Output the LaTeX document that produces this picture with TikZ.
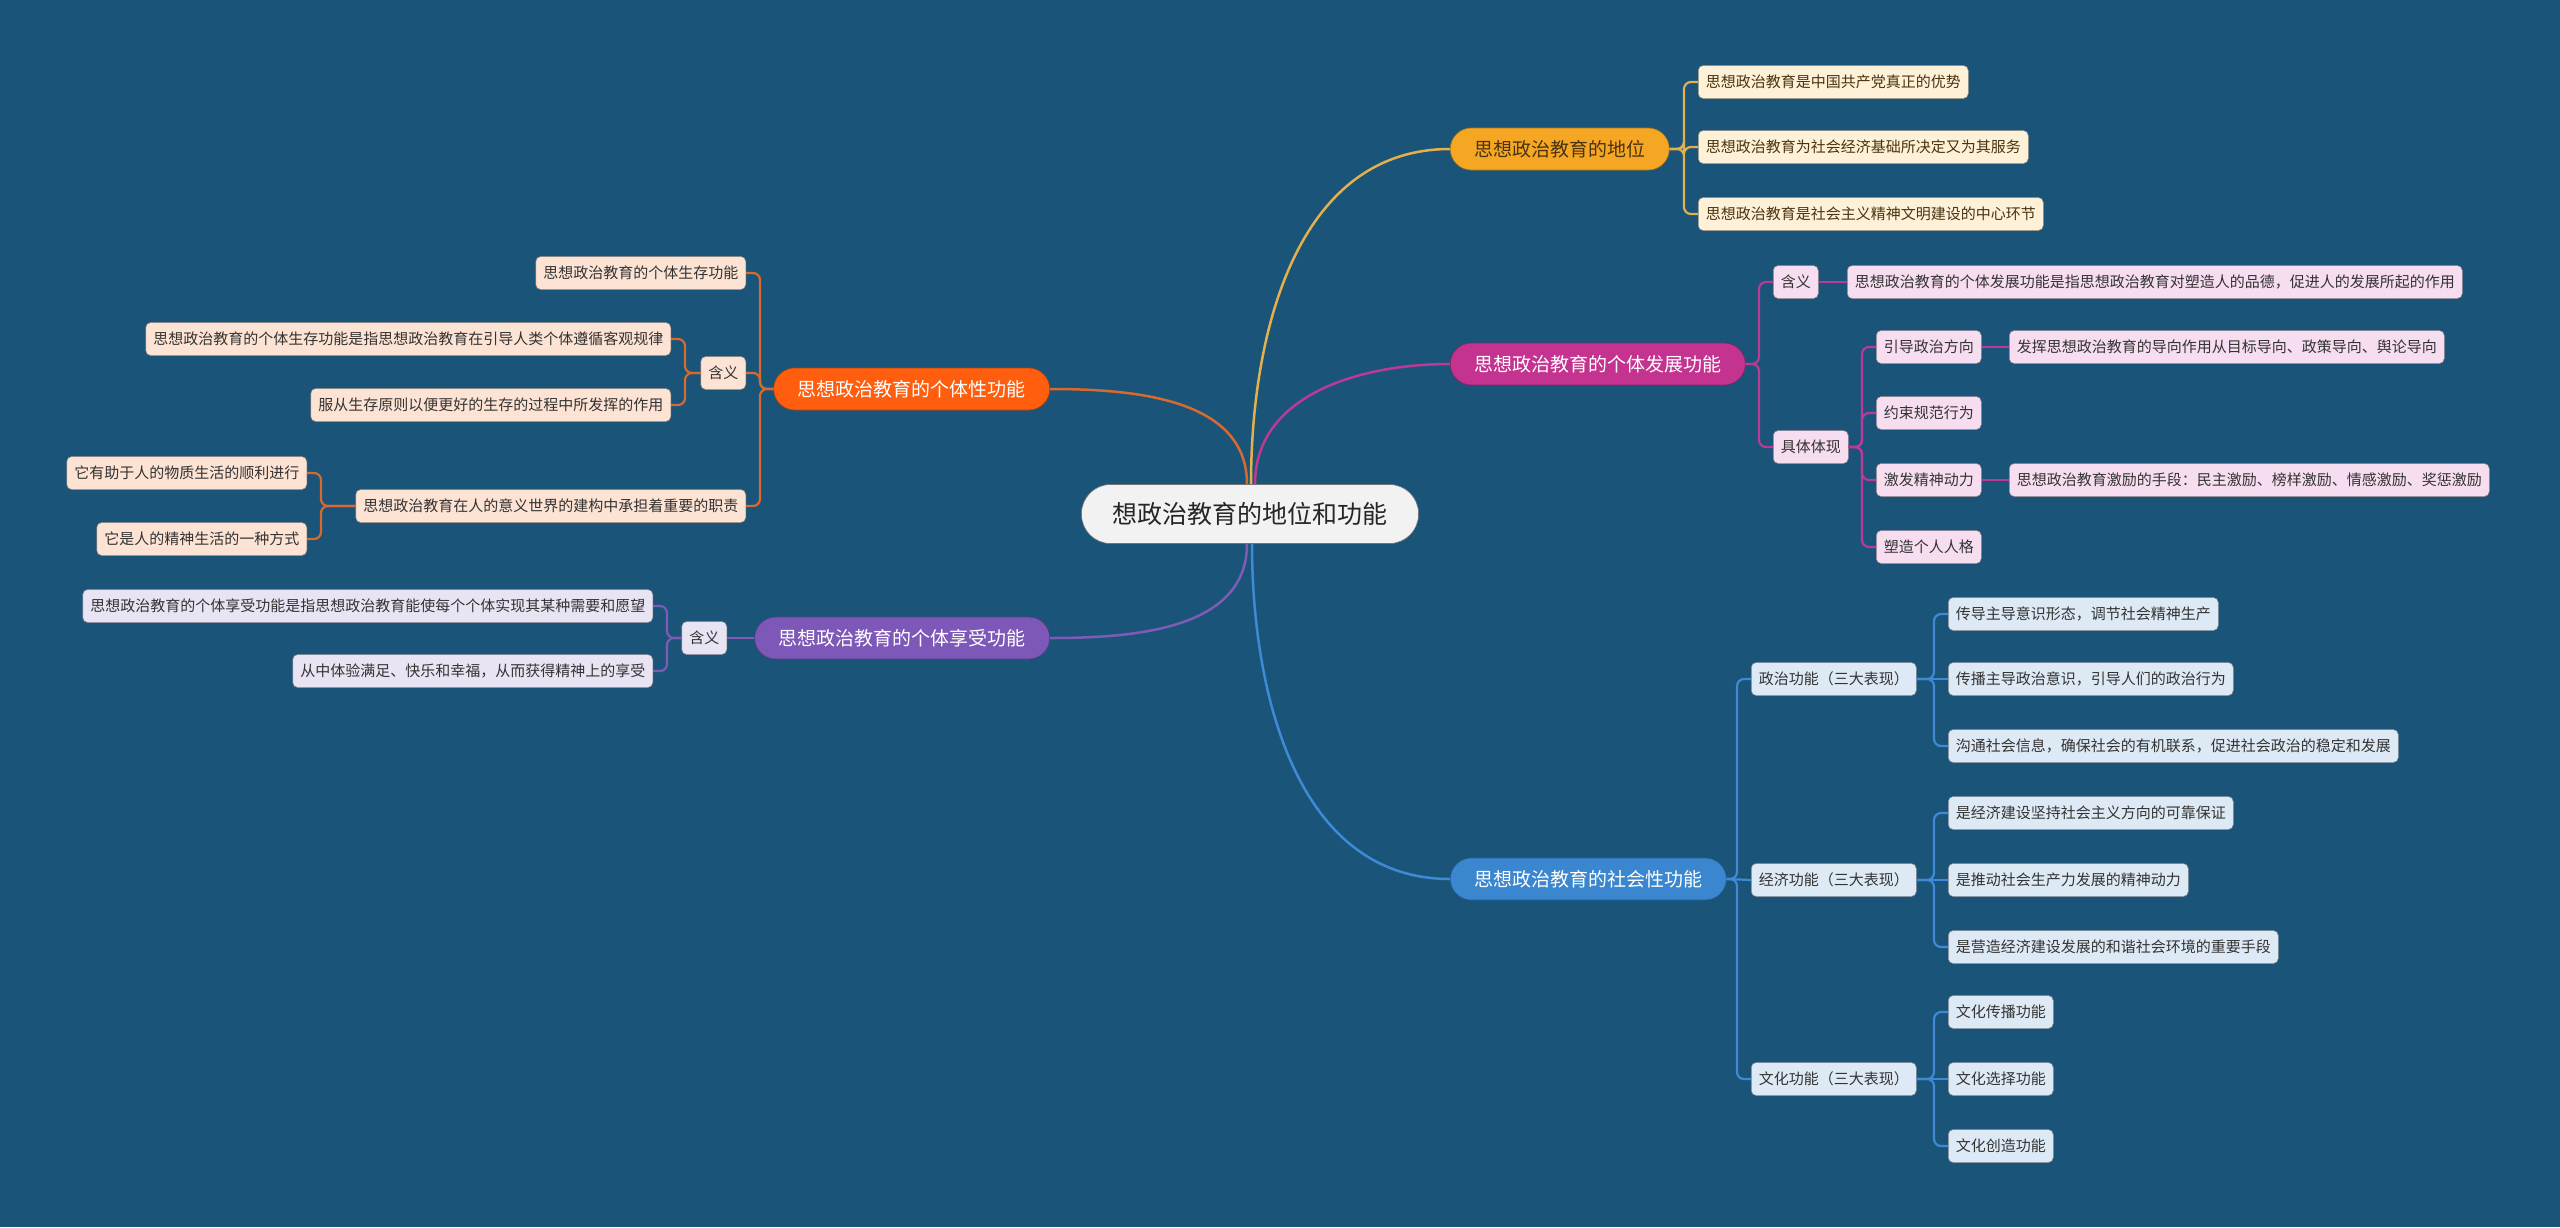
\documentclass[tikz,border=0pt]{standalone}
\usepackage{fontspec}
\newfontfamily\cjk{Noto Sans CJK SC}
\usetikzlibrary{calc}

\definecolor{bg}{HTML}{1A5479}
\definecolor{rootfill}{HTML}{F2F2F2}
\definecolor{posc}{HTML}{F5A623}
\definecolor{posline}{HTML}{E2B04C}
\definecolor{posleaf}{HTML}{FFF1D8}
\definecolor{postext}{HTML}{4A3310}
\definecolor{devc}{HTML}{C4338F}
\definecolor{devline}{HTML}{BC3A93}
\definecolor{devleaf}{HTML}{F7DDF0}
\definecolor{indc}{HTML}{FF5E0E}
\definecolor{indline}{HTML}{D8692F}
\definecolor{indleaf}{HTML}{FDE3D4}
\definecolor{enjc}{HTML}{7E58B8}
\definecolor{enjline}{HTML}{7E5CB6}
\definecolor{enjleaf}{HTML}{E9E4F3}
\definecolor{socc}{HTML}{3A86CF}
\definecolor{socline}{HTML}{3F8AD6}
\definecolor{socleaf}{HTML}{DDEAF6}

\tikzset{
  every node/.style={font=\cjk},
  rootnode/.style={fill=rootfill, draw=black!55, line width=0.6pt, rounded corners=29pt,
    minimum height=59pt, inner xsep=31pt, font=\cjk\fontsize{25}{30}\selectfont, text=black!85},
  branch/.style={fill=#1, draw=#1!70!black, line width=0.6pt, rounded corners=21pt,
    minimum height=42pt, inner xsep=24pt, font=\cjk\fontsize{19}{23}\selectfont, text=white},
  leaf/.style={fill=#1, draw=#1!60!black, line width=0.5pt, rounded corners=5pt,
    minimum height=33pt, inner xsep=7.5pt, font=\cjk\fontsize{15}{18}\selectfont, text=black!80},
  trunk/.style={draw=#1, line width=2.5pt},
  twig/.style={draw=#1, line width=2.2pt, rounded corners=7pt},
}

% twigs: parent to child, right side, left side, and straight
\newcommand\twigR[3]{\draw[twig=#1] (#2.east) -| ([xshift=-14pt]#3.west) -- (#3.west);}
\newcommand\twigL[3]{\draw[twig=#1] (#2.west) -| ([xshift=14pt]#3.east) -- (#3.east);}
\newcommand\twigS[3]{\draw[twig=#1] (#2) -- (#3);}

\begin{document}
\begin{tikzpicture}[x=1pt,y=-1pt]
  \fill[bg] (0,0) rectangle (2560,1227);
  \useasboundingbox (0,0) rectangle (2560,1227);

  % root and main branches
  \node[rootnode] (root) at (1250,514) {想政治教育的地位和功能};
  \node[branch=posc, anchor=west, text=postext] (pos) at (1450,149) {思想政治教育的地位};
  \node[branch=devc, anchor=west] (dev) at (1450,364) {思想政治教育的个体发展功能};
  \node[branch=socc, anchor=west] (soc) at (1450,879) {思想政治教育的社会性功能};
  \node[branch=indc, anchor=east] (ind) at (1050,389) {思想政治教育的个体性功能};
  \node[branch=enjc, anchor=east] (enj) at (1050,638) {思想政治教育的个体享受功能};

  \draw[trunk=indline] ([xshift=-3pt]root.north) to[out=90,in=0] (ind.east);
  \draw[trunk=posline] ([xshift=1pt]root.north) to[out=90,in=180] (pos.west);
  \draw[trunk=devline] ([xshift=5pt]root.north) to[out=90,in=180] (dev.west);
  \draw[trunk=enjline] ([xshift=-3pt]root.south) to[out=-90,in=0] (enj.east);
  \draw[trunk=socline] ([xshift=2pt]root.south) to[out=-90,in=180] (soc.west);

  % 地位
  \node[leaf=posleaf, anchor=west, text=postext] (pos1) at (1698,82) {思想政治教育是中国共产党真正的优势};
  \node[leaf=posleaf, anchor=west, text=postext] (pos2) at (1698,147) {思想政治教育为社会经济基础所决定又为其服务};
  \node[leaf=posleaf, anchor=west, text=postext] (pos3) at (1698,214) {思想政治教育是社会主义精神文明建设的中心环节};
  \foreach \c in {pos1,pos2,pos3} {\twigR{posline}{pos}{\c}}

  % 个体发展功能
  \node[leaf=devleaf, anchor=west] (devm) at (1773,282) {含义};
  \node[leaf=devleaf, anchor=west] (devm1) at (1847,282) {思想政治教育的个体发展功能是指思想政治教育对塑造人的品德，促进人的发展所起的作用};
  \node[leaf=devleaf, anchor=west] (devk) at (1773,447) {具体体现};
  \node[leaf=devleaf, anchor=west] (devk1) at (1876,347) {引导政治方向};
  \node[leaf=devleaf, anchor=west] (devk2) at (1876,413) {约束规范行为};
  \node[leaf=devleaf, anchor=west] (devk3) at (1876,480) {激发精神动力};
  \node[leaf=devleaf, anchor=west] (devk4) at (1876,547) {塑造个人人格};
  \node[leaf=devleaf, anchor=west] (devk1a) at (2009,347) {发挥思想政治教育的导向作用从目标导向、政策导向、舆论导向};
  \node[leaf=devleaf, anchor=west] (devk3a) at (2009,480) {思想政治教育激励的手段：民主激励、榜样激励、情感激励、奖惩激励};
  \twigR{devline}{dev}{devm}
  \twigR{devline}{dev}{devk}
  \twigS{devline}{devm.east}{devm1.west}
  \foreach \c in {devk1,devk2,devk3,devk4} {\twigR{devline}{devk}{\c}}
  \twigS{devline}{devk1.east}{devk1a.west}
  \twigS{devline}{devk3.east}{devk3a.west}

  % 社会性功能
  \node[leaf=socleaf, anchor=west] (soc1) at (1751,679) {政治功能（三大表现）};
  \node[leaf=socleaf, anchor=west] (soc2) at (1751,880) {经济功能（三大表现）};
  \node[leaf=socleaf, anchor=west] (soc3) at (1751,1079) {文化功能（三大表现）};
  \node[leaf=socleaf, anchor=west] (soc1a) at (1948,614) {传导主导意识形态，调节社会精神生产};
  \node[leaf=socleaf, anchor=west] (soc1b) at (1948,679) {传播主导政治意识，引导人们的政治行为};
  \node[leaf=socleaf, anchor=west] (soc1c) at (1948,746) {沟通社会信息，确保社会的有机联系，促进社会政治的稳定和发展};
  \node[leaf=socleaf, anchor=west] (soc2a) at (1948,813) {是经济建设坚持社会主义方向的可靠保证};
  \node[leaf=socleaf, anchor=west] (soc2b) at (1948,880) {是推动社会生产力发展的精神动力};
  \node[leaf=socleaf, anchor=west] (soc2c) at (1948,947) {是营造经济建设发展的和谐社会环境的重要手段};
  \node[leaf=socleaf, anchor=west] (soc3a) at (1948,1012) {文化传播功能};
  \node[leaf=socleaf, anchor=west] (soc3b) at (1948,1079) {文化选择功能};
  \node[leaf=socleaf, anchor=west] (soc3c) at (1948,1146) {文化创造功能};
  \foreach \c in {soc1,soc3} {\twigR{socline}{soc}{\c}}
  \twigS{socline}{soc.east}{soc2.west}
  \foreach \p in {soc1,soc2,soc3} {
    \twigR{socline}{\p}{\p a}
    \twigS{socline}{\p.east}{\p b.west}
    \twigR{socline}{\p}{\p c}
  }

  % 个体性功能
  \node[leaf=indleaf, anchor=east] (ind1) at (746,273) {思想政治教育的个体生存功能};
  \node[leaf=indleaf, anchor=east] (indm) at (746,373) {含义};
  \node[leaf=indleaf, anchor=east] (ind3) at (746,506) {思想政治教育在人的意义世界的建构中承担着重要的职责};
  \node[leaf=indleaf, anchor=east] (indm1) at (671,339) {思想政治教育的个体生存功能是指思想政治教育在引导人类个体遵循客观规律};
  \node[leaf=indleaf, anchor=east] (indm2) at (671,405) {服从生存原则以便更好的生存的过程中所发挥的作用};
  \node[leaf=indleaf, anchor=east] (ind3a) at (307,473) {它有助于人的物质生活的顺利进行};
  \node[leaf=indleaf, anchor=east] (ind3b) at (307,539) {它是人的精神生活的一种方式};
  \foreach \c in {ind1,indm,ind3} {\twigL{indline}{ind}{\c}}
  \foreach \c in {indm1,indm2} {\twigL{indline}{indm}{\c}}
  \foreach \c in {ind3a,ind3b} {\twigL{indline}{ind3}{\c}}

  % 个体享受功能
  \node[leaf=enjleaf, anchor=east] (enjm) at (727,638) {含义};
  \node[leaf=enjleaf, anchor=east] (enjm1) at (653,606) {思想政治教育的个体享受功能是指思想政治教育能使每个个体实现其某种需要和愿望};
  \node[leaf=enjleaf, anchor=east] (enjm2) at (653,671) {从中体验满足、快乐和幸福，从而获得精神上的享受};
  \twigS{enjline}{enj.west}{enjm.east}
  \foreach \c in {enjm1,enjm2} {\twigL{enjline}{enjm}{\c}}
\end{tikzpicture}
\end{document}
